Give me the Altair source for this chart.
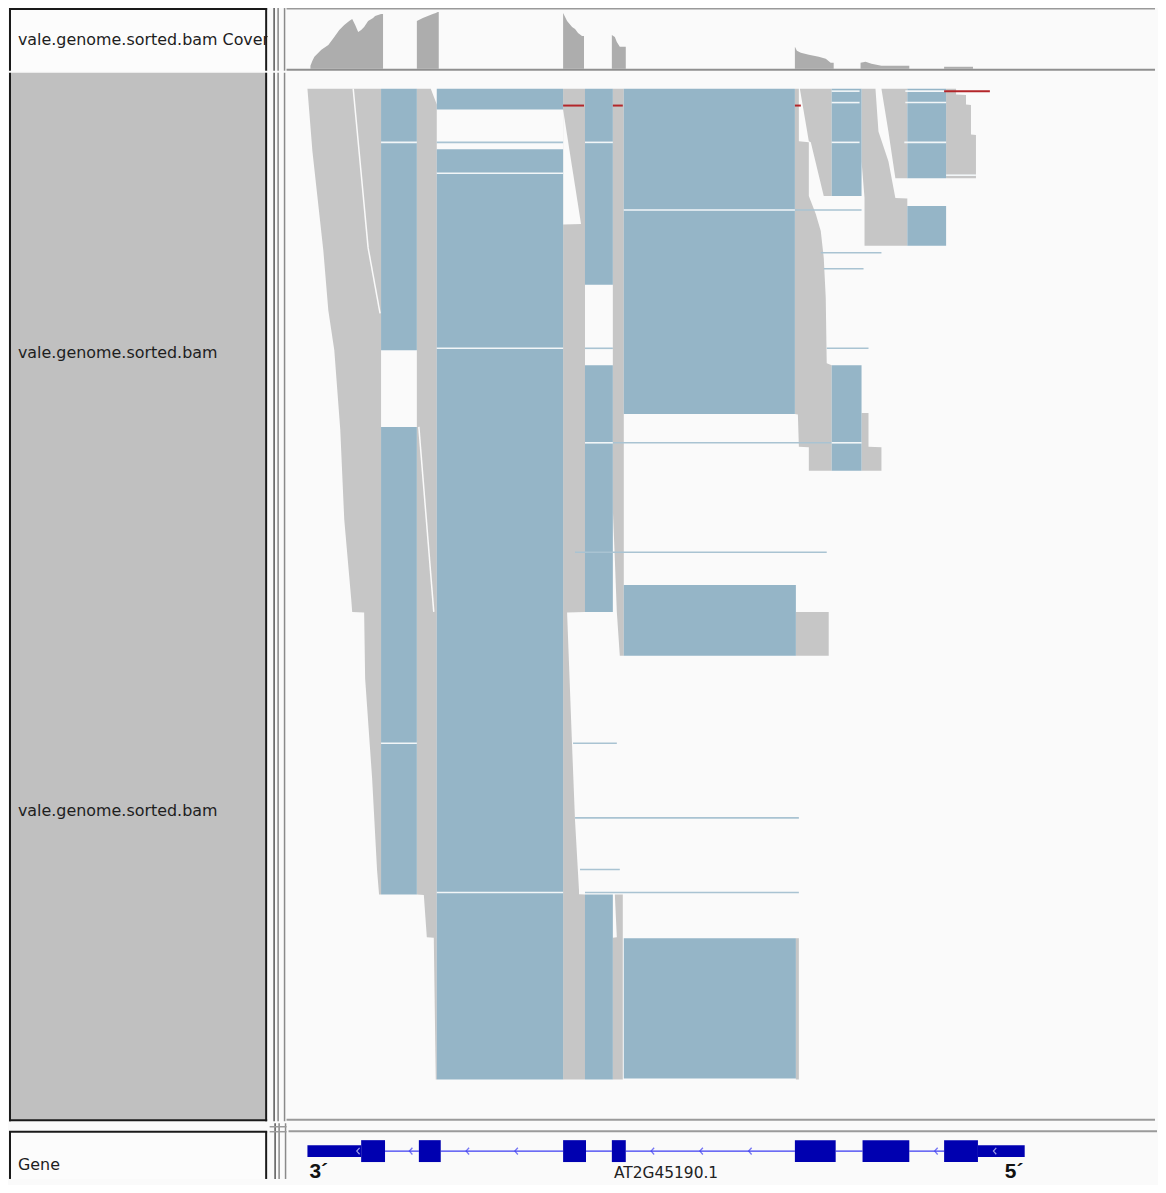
import altair as alt
import pandas as pd

# ---------------- data ----------------
# Coverage track: position (bp from locus start) and read depth, per covered block
covA_pos = [120, 130, 140, 175, 210, 240, 265, 290, 315, 330, 345, 360, 375, 390, 410, 435, 445, 460, 475, 485]
covA_depth = [3, 8, 12, 19, 24, 32, 39, 44, 48, 50, 44, 37, 39, 42, 48, 51, 53, 54, 55, 55]
covB_pos = [655, 665, 685, 710, 735, 750, 760, 765]
covB_depth = [48, 49, 51, 53, 55, 56, 57, 57]
covC_pos = [1390, 1400, 1410, 1435, 1450, 1465, 1485, 1495]
covC_depth = [56, 52, 48, 42, 40, 36, 33, 33]
covD_pos = [1635, 1650, 1660, 1675, 1705]
covD_depth = [34, 32, 27, 22, 22]
covE_pos = [2555, 2565, 2585, 2625, 2675, 2710, 2735, 2750]
covE_depth = [22, 18, 16, 14, 12, 10, 6, 6]
covF_pos = [2885, 2910, 2940, 2990, 3130]
covF_depth = [6, 7, 5, 3, 3]
covG_pos = [3305, 3450]
covG_depth = [2, 2]

# Aligned-read outlines (grey stacks): read row vs. leftmost / rightmost aligned base
gray_sizes = [14, 7, 9, 5, 4, 15, 4, 6, 3, 8, 2, 2, 4]
gray_row = [8, 39.5, 89.5, 119.5, 139.5, 179.5, 224.5, 264.5, 271, 271.25, 304.5, 354.5, 401, 413,
            8, 16, 413, 413.25, 434.5, 434.75, 506,
            8, 271, 271.25, 338, 376, 411, 412.9, 413, 506,
            8, 219.5, 244.5, 271, 293,
            413, 434.5, 434.75, 506,
            8, 34.5, 35, 62, 71, 79.5, 93, 113, 146, 147, 171.5, 171.75, 188, 188.25, 200,
            8, 34.5, 35, 62,
            8, 29.5, 44.5, 63, 63.25, 87,
            8, 29.5, 53,
            8, 11, 11.25, 16, 16.25, 31, 31.25, 53,
            271, 293,
            435, 506,
            171, 188, 188.25, 200]
gray_left = [105, 130, 185, 210, 240, 270, 290, 325, 330, 390, 395, 430, 455, 465,
             655, 655, 655, 690, 705, 740, 750,
             1390, 1390, 1390, 1390, 1390, 1390, 1390, 1390, 1390,
             1640, 1640, 1650, 1660, 1675,
             1650, 1660, 1640, 1640,
             2555, 2555, 2555, 2555, 2555, 2555, 2555, 2555, 2555, 2555, 2555, 2570, 2575, 2625, 2625,
             2580, 2625, 2635, 2700,
             2890, 2890, 2890, 2905, 2905, 2905,
             2990, 3025, 3060,
             3315, 3315, 3315, 3315, 3315, 3315, 3315, 3315,
             2560, 2560,
             2560, 2560,
             2890, 2890, 2890, 2890]
gray_right = [475] * 14 + \
             [725, 755, 755, 755, 755, 755, 755] + \
             [1500, 1500, 1410, 1435, 1450, 1470, 1470, 1500, 1500] + \
             [1695] * 5 + \
             [1690] * 4 + \
             [2575, 2575, 2625, 2625, 2660, 2685, 2700, 2710, 2715, 2740, 2740, 2740, 2740, 2740, 2740] + \
             [2740] * 4 + \
             [2960, 2975, 3025, 3060, 3120, 3120] + \
             [3120] * 3 + \
             [3365, 3365, 3415, 3415, 3440, 3440, 3465, 3465] + \
             [2725, 2725] + \
             [2575, 2575] + \
             [2925, 2925, 2990, 2990]

# Empty wedge between two staggered read stacks in exon 3
wedge_row = [18.5, 76, 76.25]
wedge_left = [1390, 1390, 1390]
wedge_right = [1390, 1480, 1390]

# Spliced (intron-spanning) read blocks
blue_start = [475, 475, 755, 755, 1500, 1500, 1500, 1695, 1695, 1695, 2740, 2740, 3120, 3120]
blue_end = [655, 655, 1390, 1390, 1640, 1640, 1640, 2555, 2560, 2560, 2890, 2890, 3315, 3315]
blue_top = [8, 178, 8, 38.5, 8, 147, 413, 8, 257.5, 435, 8, 147, 8, 67]
blue_bottom = [139.5, 413, 18.5, 506, 106.5, 271, 506, 171.5, 293, 505.5, 62, 200, 53, 87]

# Row gaps inside stacks
gap_row = [35, 35, 35, 35, 50.5, 69, 138.5, 186, 186, 337, 412, 9.25, 9.25, 15, 15, 51.5]
gap_start = [475, 1500, 2740, 3105, 755, 1695, 755, 1500, 2740, 475, 755, 2740, 3110, 2740, 3110, 3315]
gap_end = [655, 1640, 2880, 3315, 1390, 2555, 1390, 1640, 2890, 655, 1390, 2880, 3315, 2880, 3315, 3465]

# Thin junction lines of single split reads
junc_row = [35, 90.5, 98.5, 138.5, 138.5, 186, 241, 337, 374.5, 400.5, 412, 69]
junc_start = [755, 2685, 2700, 1500, 2715, 1640, 1450, 1440, 1450, 1475, 1500, 2555]
junc_end = [1390, 2990, 2900, 1640, 2925, 2740, 2715, 1660, 2575, 1675, 2575, 2890]

# Mismatch marks
mis_row = [16.5, 16.5, 16.5, 9.25]
mis_start = [1390, 1640, 2555, 3305]
mis_end = [1495, 1690, 2585, 3535]

# Gaps between neighbouring read staircases
slit_row1 = [8, 88, 178]
slit_pos1 = [335, 410, 665]
slit_row2 = [88, 121, 271]
slit_pos2 = [410, 470, 740]

# Gene model AT2G45190.1 (minus strand)
utr_start = [95, 3465]
utr_end = [365, 3700]
exon_start = [365, 655, 1380, 1625, 2545, 2885, 3295]
exon_end = [485, 765, 1495, 1695, 2750, 3120, 3465]
chevron_pos = [615, 900, 1145, 1830, 2075, 2320, 3255]
utr_chevron_pos = [350, 3550]
end_label_pos = [105, 3600]
end_label_text = ["3\u00b4", "5\u00b4"]
gene_name = "AT2G45190.1"

track_label_rows = [141, 371]
track_names = ["vale.genome.sorted.bam", "vale.genome.sorted.bam"]

# ---------------- layout / style ----------------
LOCUS_BP = 4365
ROWS = 527
TRACK_W, LABEL_W, DIV_W = 873, 260, 17
COV_H, READS_H, GENE_H = 63, 1054, 56
GRAY = "#c6c6c6"
BLUE = "#95b5c7"
COVC = "#adadad"
BG = "#fafafa"
FONT = "DejaVu Sans"

xscale = alt.Scale(domain=[0, LOCUS_BP], nice=False, zero=False)
rowscale = alt.Scale(domain=[0, ROWS], reverse=True, nice=False, zero=False)
covscale = alt.Scale(domain=[-2, 61], nice=False, zero=False)
one = pd.DataFrame({"k": [0]})

def X(f):
    return alt.X(f, type="quantitative", scale=xscale, axis=None)

def R(f):
    return alt.Y(f, type="quantitative", scale=rowscale, axis=None)

def hrule(y, x1, x2, color, w):
    return alt.Chart(one).mark_rule(color=color, strokeWidth=w).encode(
        x=alt.value(x1), x2=alt.value(x2), y=alt.value(y))

def vrule(x, y1, y2, color, w):
    return alt.Chart(one).mark_rule(color=color, strokeWidth=w).encode(
        x=alt.value(x), y=alt.value(y1), y2=alt.value(y2))

def box(x1, x2, y1, y2, color):
    return alt.Chart(one).mark_rect(color=color).encode(
        x=alt.value(x1), x2=alt.value(x2), y=alt.value(y1), y2=alt.value(y2))

# ---------------- coverage ----------------
cov_frames = []
for name, p, d in [("A", covA_pos, covA_depth), ("B", covB_pos, covB_depth), ("C", covC_pos, covC_depth),
                   ("D", covD_pos, covD_depth), ("E", covE_pos, covE_depth), ("F", covF_pos, covF_depth),
                   ("G", covG_pos, covG_depth)]:
    cov_frames.append(pd.DataFrame({"block": name, "pos": p, "depth": d}))
cov_df = pd.concat(cov_frames, ignore_index=True)

cov_area = alt.Chart(cov_df).mark_area(color=COVC, interpolate="linear").encode(
    x=X("pos"),
    y=alt.Y("depth:Q", scale=covscale, axis=None, stack=None),
    detail="block:N",
)
cov_track = alt.layer(
    cov_area,
    hrule(0.75, 0, TRACK_W, "#9a9a9a", 1.5),
    hrule(62, 0, TRACK_W, "#8f8f8f", 2),
).properties(width=TRACK_W, height=COV_H)

# ---------------- reads ----------------
shape_ids = []
for i, n in enumerate(gray_sizes):
    shape_ids += [f"s{i}"] * n
gray_df = pd.DataFrame({"shape": shape_ids, "row": gray_row, "left": gray_left, "right": gray_right})
wedge_df = pd.DataFrame({"shape": "w", "row": wedge_row, "left": wedge_left, "right": wedge_right})
blue_df = pd.DataFrame({"start": blue_start, "end": blue_end, "top": blue_top, "bottom": blue_bottom})
gap_df = pd.DataFrame({"row": gap_row, "start": gap_start, "end": gap_end})
junc_df = pd.DataFrame({"row": junc_row, "start": junc_start, "end": junc_end})
mis_df = pd.DataFrame({"row": mis_row, "start": mis_start, "end": mis_end})
slit_df = pd.DataFrame({"r1": slit_row1, "p1": slit_pos1, "r2": slit_row2, "p2": slit_pos2})

def outline(df, color):
    return alt.Chart(df).mark_area(orient="horizontal", color=color, interpolate="linear").encode(
        y=R("row"),
        x=alt.X("left:Q", scale=xscale, axis=None, stack=None),
        x2="right:Q",
        detail="shape:N",
    )

reads_gray = outline(gray_df, GRAY)
reads_wedge = outline(wedge_df, BG)
reads_blue = alt.Chart(blue_df).mark_rect(color=BLUE).encode(
    x=X("start"), x2="end:Q", y=R("top"), y2="bottom:Q")
reads_slit = alt.Chart(slit_df).mark_rule(color=BG, strokeWidth=1.5).encode(
    x=X("p1"), x2="p2:Q", y=R("r1"), y2="r2:Q")
reads_junc = alt.Chart(junc_df).mark_rule(color="#a9c3d2", strokeWidth=1.6).encode(
    x=X("start"), x2="end:Q", y=R("row"))
reads_gap = alt.Chart(gap_df).mark_rule(color="#f2f6f8", strokeWidth=1.6).encode(
    x=X("start"), x2="end:Q", y=R("row"))
reads_mis = alt.Chart(mis_df).mark_rule(color="#b3262a", strokeWidth=2).encode(
    x=X("start"), x2="end:Q", y=R("row"))

reads_track = alt.layer(
    reads_gray, reads_wedge, reads_blue, reads_slit, reads_junc, reads_gap, reads_mis,
    hrule(READS_H - 1.5, 0, TRACK_W, "#9a9a9a", 2),
).properties(width=TRACK_W, height=READS_H)

# ---------------- gene ----------------
exon_df = pd.DataFrame({"start": exon_start, "end": exon_end})
utr_df = pd.DataFrame({"start": utr_start, "end": utr_end})
intron_df = pd.DataFrame({"start": exon_end[:-1], "end": exon_start[1:]})
chev_df = pd.DataFrame({"pos": chevron_pos})
uchev_df = pd.DataFrame({"pos": utr_chevron_pos})
endlab_df = pd.DataFrame({"pos": end_label_pos, "text": end_label_text})
name_df = pd.DataFrame({"pos": [(utr_start[0] + utr_end[-1]) / 2], "text": [gene_name]})
CHEV = "M0.45,-1L-0.45,0L0.45,1"

gene_track = alt.layer(
    hrule(8, 0, TRACK_W, "#9a9a9a", 2),
    alt.Chart(intron_df).mark_rule(color="#3d3df2", strokeWidth=1.3).encode(
        x=X("start"), x2="end:Q", y=alt.value(28)),
    alt.Chart(chev_df).mark_point(shape=CHEV, filled=False, color="#3d3df2", size=45, strokeWidth=1.3).encode(
        x=X("pos"), y=alt.value(28)),
    alt.Chart(utr_df).mark_rect(color="#0000b0").encode(
        x=X("start"), x2="end:Q", y=alt.value(22), y2=alt.value(34)),
    alt.Chart(exon_df).mark_rect(color="#0000b0").encode(
        x=X("start"), x2="end:Q", y=alt.value(17), y2=alt.value(39)),
    alt.Chart(uchev_df).mark_point(shape=CHEV, filled=False, color="#e0e0ff", size=40, strokeWidth=1.2).encode(
        x=X("pos"), y=alt.value(28)),
    alt.Chart(endlab_df).mark_text(font="Liberation Sans", fontWeight="bold", fontSize=21, align="left",
                                   baseline="alphabetic", color="#111111").encode(
        x=X("pos"), y=alt.value(55), text="text:N"),
    alt.Chart(name_df).mark_text(font=FONT, fontSize=15.5, align="center", baseline="alphabetic",
                                 color="#222222", clip=True).encode(
        x=X("pos"), y=alt.value(GENE_H - 0.5), text="text:N"),
).properties(width=TRACK_W, height=GENE_H)

# ---------------- left labels ----------------
cov_label = alt.layer(
    box(1, 259, 1, COV_H, "#fcfcfc"),
    alt.Chart(pd.DataFrame({"text": ["vale.genome.sorted.bam Coverage"]})).mark_text(
        font=FONT, fontSize=16, align="left", baseline="middle", color="#1e1e1e", clip=True).encode(
        x=alt.value(9), y=alt.value(32), text="text:N"),
    vrule(1, 0, COV_H, "#1a1a1a", 2),
    vrule(258.5, 0, COV_H, "#1a1a1a", 2),
    hrule(1, 0, 259.5, "#1a1a1a", 2),
).properties(width=LABEL_W, height=COV_H)

reads_label = alt.layer(
    box(1, 259, 0, READS_H - 1, "#c0c0c0"),
    alt.Chart(pd.DataFrame({"row": track_label_rows, "text": track_names})).mark_text(
        font=FONT, fontSize=16, align="left", baseline="middle", color="#1e1e1e", clip=True).encode(
        x=alt.value(9), y=R("row"), text="text:N"),
    vrule(1, 0, READS_H, "#1a1a1a", 2),
    vrule(258.5, 0, READS_H, "#1a1a1a", 2),
    hrule(READS_H - 1, 0, 259.5, "#1a1a1a", 2),
).properties(width=LABEL_W, height=READS_H)

gene_label = alt.layer(
    box(1, 259, 8, GENE_H, "#fcfcfc"),
    alt.Chart(pd.DataFrame({"text": ["Gene"]})).mark_text(
        font=FONT, fontSize=16, align="left", baseline="middle", color="#1e1e1e").encode(
        x=alt.value(9), y=alt.value(42), text="text:N"),
    vrule(1, 8, GENE_H, "#1a1a1a", 2),
    vrule(258.5, 8, GENE_H, "#1a1a1a", 2),
    hrule(8.5, 0, 259.5, "#1a1a1a", 2),
).properties(width=LABEL_W, height=GENE_H)

def divider(h, extra=()):
    layers = [vrule(5.5, 0, h, "#555555", 1.5), vrule(9.5, 0, h, "#6a6a6a", 1.2),
              vrule(16, 0, h, "#8a8a8a", 1.5)] + list(extra)
    return alt.layer(*layers).properties(width=DIV_W, height=h)

row_cov = alt.hconcat(cov_label, divider(COV_H), cov_track, spacing=0)
row_reads = alt.hconcat(reads_label, divider(READS_H), reads_track, spacing=0)
row_gene = alt.hconcat(gene_label,
                       divider(GENE_H, [hrule(3.5, 0, DIV_W, "#9a9a9a", 1.5), hrule(8.5, 0, DIV_W, "#9a9a9a", 1.5)]),
                       gene_track, spacing=0)

chart = alt.vconcat(row_cov, row_reads, row_gene, spacing=0).properties(
    padding={"top": -4, "left": 0, "right": 0, "bottom": 0}, background=BG
).configure_view(strokeWidth=0)

chart.save("out.html", embed_options={"renderer": "svg", "actions": False})
